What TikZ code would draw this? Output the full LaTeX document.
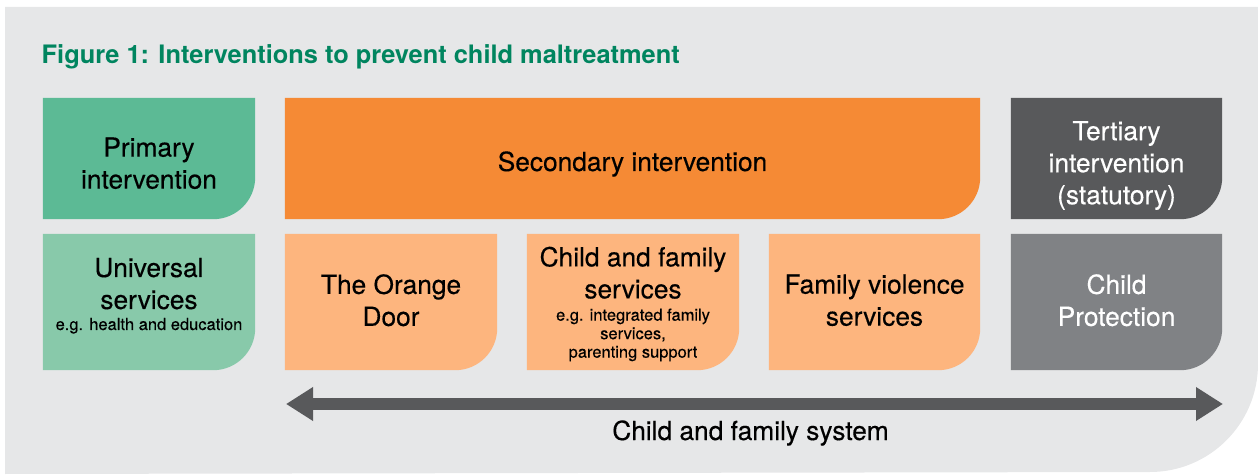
\documentclass[tikz,border=0pt]{standalone}
\usepackage{fontspec}
\setmainfont{TeX Gyre Heros}
\newfontfamily\labelfont[FakeBold=0.3]{TeX Gyre Heros}
\usetikzlibrary{arrows.meta,backgrounds}

\definecolor{panelgrey}{HTML}{E6E7E8}
\definecolor{titlegreen}{HTML}{00855F}
\definecolor{primgreen}{HTML}{5CBA95}
\definecolor{univgreen}{HTML}{88C9AA}
\definecolor{secorange}{HTML}{F58A35}
\definecolor{lightorange}{HTML}{FDB57E}
\definecolor{tertgrey}{HTML}{58595B}
\definecolor{protgrey}{HTML}{808285}
\definecolor{arrowgrey}{HTML}{58595B}

% fill a named box with a rounded lower-right corner
\newcommand\tabfill[2]{%
  \fill[#2] (#1.north west) -- (#1.north east)
    -- ([yshift=42pt]#1.south east)
    arc[start angle=0,end angle=-90,radius=42pt]
    -- (#1.south west) -- cycle;}

\tikzset{
  box/.style={inner sep=0pt, minimum width=#1},
  toprow/.style={box=#1, minimum height=121pt},
  botrow/.style={box=#1, minimum height=136pt},
  lbl/.style={align=center, inner sep=0pt,
    font=\labelfont\fontsize{26.3}{32}\selectfont},
  note/.style={align=center, inner sep=0pt,
    font=\labelfont\fontsize{16.5}{18.5}\selectfont},
  heading/.style={inner sep=0pt, text=titlegreen,
    font=\bfseries\fontsize{25.4}{30}\selectfont},
  span/.style={arrowgrey, line width=11pt,
    {Triangle[length=27pt,width=32pt]}-{Triangle[length=27pt,width=32pt]}}
}

\begin{document}
\begin{tikzpicture}[x=1pt,y=1pt]
\useasboundingbox (0,0) rectangle (1258,474);

% heading
\node[heading, anchor=base west] (title) at (41.5,410.7)
  {Figure 1: Interventions to prevent child maltreatment};

% top row
\node[toprow=212pt] (primary)   at (149,315.5) {};
\node[toprow=695pt] (secondary) at (632.5,315.5) {};
\node[toprow=211pt] (tertiary)  at (1116.5,315.5) {};

% bottom row
\node[botrow=212pt] (universal) at (149,172) {};
\node[botrow=212pt] (door)      at (391,172) {};
\node[botrow=212pt] (cfs)       at (633,172) {};
\node[botrow=211pt] (fvs)       at (874.5,172) {};
\node[botrow=211pt] (cp)        at (1116.5,172) {};

% labels
\node[lbl] (primaryT) at (149,310.75) {Primary\\intervention};
\node[lbl, anchor=base] (secondaryT) at (632.5,303) {Secondary intervention};
\node[lbl, text=white] (tertiaryT) at (1116.5,308.5)
  {Tertiary\\intervention\\(statutory)};

\node[lbl] (universalT) at (149,190.4) {Universal\\services};
\node[note, anchor=base] (universalN) at (149,144) {e.g. health and education};
\node[lbl] (doorT) at (391,173.75) {The Orange\\Door};
\node[lbl] (cfsT) at (633,201.25) {Child and family\\services};
\node[note] (cfsN) at (633,139.1) {e.g. integrated family\\services,\\parenting support};
\node[lbl] (fvsT) at (874.5,173.75) {Family violence\\services};
\node[lbl, text=white] (cpT) at (1116.5,173.75) {Child\\Protection};

% system arrow
\coordinate (sysL) at (286,70);
\coordinate (sysR) at (1223,70);
\draw[span] (sysL) -- (sysR);
\node[lbl, anchor=base] (sysT) at (750.5,34) {Child and family system};

\begin{pgfonlayer}{background}
  \fill[panelgrey] (5,467) -- (1258,467) -- (1258,110)
    arc[start angle=0,end angle=-90,radius=108pt] -- (5,0) -- cycle;
  \tabfill{primary}{primgreen}
  \tabfill{secondary}{secorange}
  \tabfill{tertiary}{tertgrey}
  \tabfill{universal}{univgreen}
  \tabfill{door}{lightorange}
  \tabfill{cfs}{lightorange}
  \tabfill{fvs}{lightorange}
  \tabfill{cp}{protgrey}
\end{pgfonlayer}
\end{tikzpicture}
\end{document}
